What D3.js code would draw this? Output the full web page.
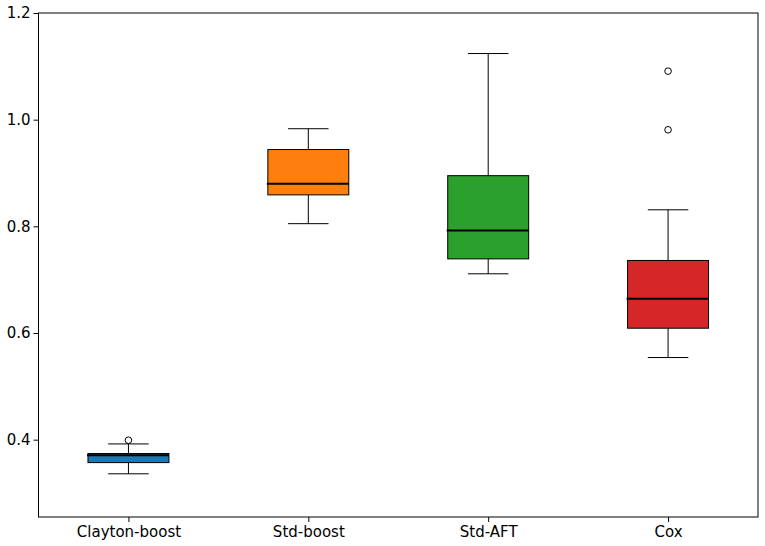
<!DOCTYPE html>
<html>
<head>
<meta charset="utf-8">
<script src="https://cdn.jsdelivr.net/npm/d3@7"></script>
<style>
	body { margin: 0; background: #fff; }
	svg text { font-family: 'DejaVu Sans', sans-serif; }
	.axis path, .axis line { stroke: #000; }
	.axis text { font-size: 15px; fill: #000; }
</style>
</head>
<body>
<div id="chart"></div>
<script>
// box statistics
var categories = [ 'Clayton-boost', 'Std-boost', 'Std-AFT', 'Cox' ];
var whiskerLow = [ 0.336, 0.805, 0.711, 0.554 ];
var q1 = [ 0.357, 0.859, 0.739, 0.609 ];
var medians = [ 0.371, 0.880, 0.792, 0.664 ];
var q3 = [ 0.374, 0.944, 0.895, 0.736 ];
var whiskerHigh = [ 0.392, 0.983, 1.124, 0.831 ];
var outliers = [ [ 0.399 ], [], [], [ 1.091, 0.981 ] ];
var colors = [ '#1f77b4', '#ff7f0e', '#2ca02c', '#d62728' ];
var yTicks = [ 0.4, 0.6, 0.8, 1.0, 1.2 ];

var sizes = { width: 765, height: 546 };
var padding = { top: 13, right: 7, bottom: 29, left: 38.5 };
sizes.cwidth = sizes.width - padding.left - padding.right;
sizes.cheight = sizes.height - padding.top - padding.bottom;

var boxes = categories.map( function ( c, i ) {
	return {
		name: c,
		lo: whiskerLow[i],
		q1: q1[i],
		med: medians[i],
		q3: q3[i],
		hi: whiskerHigh[i],
		out: outliers[i],
		color: colors[i]
	};
} );

var svg = d3.select( '#chart' ).append( 'svg' )
	.attr( 'width', sizes.width )
	.attr( 'height', sizes.height );

var guts = svg.append( 'g' )
	.attr( 'transform', 'translate(' + padding.left + ',' + padding.top + ')' );

var x = d3.scalePoint()
	.domain( categories )
	.range( [ 0, sizes.cwidth ] )
	.padding( 0.5 );

var y = d3.scaleLinear()
	.domain( [ 0.255, 1.2 ] )
	.range( [ sizes.cheight, 0 ] );

var boxW = x.step() * 0.45;
var capW = boxW / 2;

var xAxis = d3.axisBottom( x ).tickSize( 5 ).tickPadding( 4 );
var yAxis = d3.axisLeft( y ).tickValues( yTicks ).tickFormat( d3.format( '.1f' ) ).tickSize( 5 ).tickPadding( 3 );

guts.append( 'g' ).classed( 'axis', true )
	.attr( 'transform', 'translate(0,' + sizes.cheight + ')' )
	.call( xAxis )
	.call( function ( g ) { g.select( '.domain' ).remove(); } );

guts.append( 'g' ).classed( 'axis', true )
	.call( yAxis )
	.call( function ( g ) { g.select( '.domain' ).remove(); } );

var b = guts.selectAll( '.box' )
	.data( boxes )
	.enter()
	.append( 'g' )
	.classed( 'box', true )
	.attr( 'transform', function ( d ) { return 'translate(' + x( d.name ) + ',0)'; } );

// whiskers
b.append( 'line' )
	.attr( 'x1', 0 ).attr( 'x2', 0 )
	.attr( 'y1', function ( d ) { return y( d.q3 ); } )
	.attr( 'y2', function ( d ) { return y( d.hi ); } )
	.style( 'stroke', '#000' );

b.append( 'line' )
	.attr( 'x1', 0 ).attr( 'x2', 0 )
	.attr( 'y1', function ( d ) { return y( d.q1 ); } )
	.attr( 'y2', function ( d ) { return y( d.lo ); } )
	.style( 'stroke', '#000' );

// caps
[ 'hi', 'lo' ].forEach( function ( k ) {
	b.append( 'line' )
		.attr( 'x1', -capW / 2 ).attr( 'x2', capW / 2 )
		.attr( 'y1', function ( d ) { return y( d[k] ); } )
		.attr( 'y2', function ( d ) { return y( d[k] ); } )
		.style( 'stroke', '#000' );
} );

b.append( 'rect' )
	.attr( 'x', -boxW / 2 )
	.attr( 'width', boxW )
	.attr( 'y', function ( d ) { return y( d.q3 ); } )
	.attr( 'height', function ( d ) { return y( d.q1 ) - y( d.q3 ); } )
	.style( 'fill', function ( d ) { return d.color; } )
	.style( 'stroke', '#000' )
	.style( 'stroke-width', 1 );

b.append( 'line' )
	.attr( 'x1', -boxW / 2 - 1 ).attr( 'x2', boxW / 2 )
	.attr( 'y1', function ( d ) { return y( d.med ); } )
	.attr( 'y2', function ( d ) { return y( d.med ); } )
	.style( 'stroke', '#000' )
	.style( 'stroke-width', 2 );

b.selectAll( '.flier' )
	.data( function ( d ) { return d.out; } )
	.enter()
	.append( 'circle' )
	.classed( 'flier', true )
	.attr( 'cx', 0 )
	.attr( 'cy', function ( d ) { return y( d ); } )
	.attr( 'r', 3.3 )
	.style( 'fill', 'none' )
	.style( 'stroke', '#000' );

// frame
guts.append( 'rect' )
	.attr( 'width', sizes.cwidth )
	.attr( 'height', sizes.cheight )
	.style( 'fill', 'none' )
	.style( 'stroke', '#000' )
	.style( 'stroke-width', 1 );
</script>
</body>
</html>
